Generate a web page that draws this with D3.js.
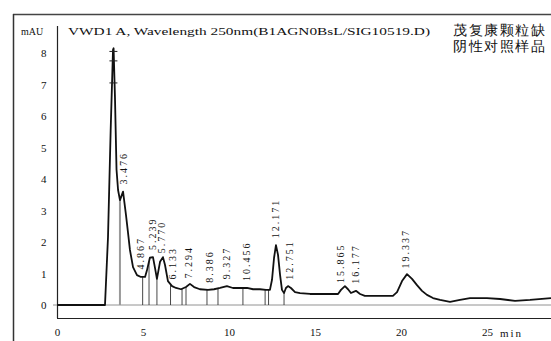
<!DOCTYPE html>
<html><head><meta charset="utf-8">
<script src="https://cdn.jsdelivr.net/npm/d3@7"></script>
<style>
html,body{margin:0;padding:0;background:#fff;}
svg{display:block;}
text{font-family:"Liberation Serif","DejaVu Serif",serif;fill:#111;}
</style></head><body>
<svg id="c" width="551" height="341"></svg>
<script>
// ---- data ----
const traceTime = [0,2.6,2.79,2.965,3.12,3.256,3.29,3.37,3.46,3.55,3.66,3.84,4.01,4.13,4.24,4.42,4.65,4.88,5.12,5.23,5.4,5.58,5.7,5.81,5.99,6.16,6.28,6.45,6.69,6.92,7.21,7.5,7.73,7.97,8.31,8.78,9.13,9.48,9.88,10.23,10.64,11.05,11.4,11.8,12.15,12.38,12.5,12.62,12.73,12.85,12.97,13.08,13.2,13.31,13.43,13.6,13.84,14.13,14.71,15.58,16.34,16.51,16.74,16.92,17.09,17.38,17.62,17.9,18.78,19.53,19.77,20.06,20.35,20.64,20.93,21.22,21.51,21.86,22.27,22.85,23.43,24.01,25,25.76,26.63,27.5,28.72];
const traceMAU  = [0,0,0,2.15,5.55,8.1,8.15,6.6,4.3,3.65,3.33,3.6,2.86,2.29,1.75,1.2,0.95,0.89,0.89,1.1,1.5,1.52,1.17,0.83,1.37,1.52,1.27,0.76,0.6,0.54,0.5,0.57,0.67,0.57,0.5,0.48,0.5,0.54,0.6,0.54,0.54,0.54,0.5,0.5,0.48,0.48,0.8,1.5,1.9,1.59,0.95,0.48,0.38,0.54,0.6,0.54,0.41,0.38,0.35,0.35,0.35,0.48,0.6,0.5,0.38,0.45,0.35,0.29,0.29,0.29,0.41,0.76,0.98,0.83,0.63,0.45,0.32,0.22,0.16,0.1,0.16,0.22,0.22,0.19,0.13,0.16,0.22];
const peakLabels = ["3.476","4.867","5.239","5.770","6.133","7.294","8.386","9.327","10.456","12.171","12.751","15.865","16.177","19.337"];
const peakLabelTime = [3.84,4.83,5.58,6.05,6.74,7.62,8.84,9.83,10.99,12.73,13.49,16.51,17.38,20.29];
const dropTimes = [3.66,4.98,5.35,5.81,6.6,7.27,7.5,8.72,9.36,10.81,12.1,12.3,13.2];
const markMAU = [8.05,7.75,7.05];
const yTicks = [0,1,2,3,4,5,6,7,8];
const xTicks = [0,5,10,15,20,25];
const titleText = "VWD1 A, Wavelength 250nm(B1AGN0BsL/SIG10519.D)";
const noteLines = ["茂复康颗粒缺","阴性对照样品"];

// ---- drawing ----
const svg = d3.select("#c");
const x = d3.scaleLinear().domain([0,25]).range([57,487]);
const y = d3.scaleLinear().domain([0,8]).range([305,53]);
const valueAt = t => {
  const i = d3.bisectRight(traceTime, t);
  if (i<=0) return traceMAU[0];
  if (i>=traceTime.length) return traceMAU[traceMAU.length-1];
  const t0=traceTime[i-1], t1=traceTime[i];
  return traceMAU[i-1] + (traceMAU[i]-traceMAU[i-1])*(t-t0)/(t1-t0);
};

// frame
svg.append("line").attr("x1",13).attr("x2",551).attr("y1",14.5).attr("y2",14.5).attr("stroke","#444").attr("stroke-width",1.3);
svg.append("line").attr("x1",13.5).attr("x2",13.5).attr("y1",14).attr("y2",341).attr("stroke","#333").attr("stroke-width",1.5);
svg.append("line").attr("x1",57.5).attr("x2",57.5).attr("y1",26).attr("y2",318).attr("stroke","#222").attr("stroke-width",1.2);

// zero line
svg.append("line").attr("x1",53).attr("x2",551).attr("y1",y(0)).attr("y2",y(0)).attr("stroke","#777").attr("stroke-width",0.8);

// y axis labels
const ya = svg.append("g").attr("transform","translate(57.5,0)")
  .call(d3.axisLeft(y).tickValues(yTicks).tickSize(0).tickPadding(11).tickFormat(d3.format("d")));
ya.select(".domain").remove();
ya.selectAll("text").attr("font-size",11).attr("font-family","Liberation Serif");

// x axis
const xa = svg.append("g").attr("transform","translate(0,318)")
  .call(d3.axisBottom(x).tickValues(xTicks).tickSize(0).tickPadding(10).tickFormat(d3.format("d")));
xa.select(".domain").attr("d","M57,0.5H551").attr("stroke","#222").attr("stroke-width",1.2);
xa.selectAll("text").attr("font-size",11).attr("font-family","Liberation Serif");
svg.append("text").attr("x",500).attr("y",337).attr("font-size",11).attr("letter-spacing",2).text("min");

// drop lines
svg.append("g").selectAll("line").data(dropTimes).join("line")
  .attr("x1",d=>x(d)).attr("x2",d=>x(d)).attr("y1",d=>y(valueAt(d))).attr("y2",y(0))
  .attr("stroke",(d,i)=>i===0?"#999":"#333").attr("stroke-width",(d,i)=>i===0?2:0.9);

// trace
svg.append("path").datum(traceTime.map((t,i)=>[t,traceMAU[i]]))
  .attr("d", d3.line().x(d=>x(d[0])).y(d=>y(d[1])))
  .attr("fill","none").attr("stroke","#111").attr("stroke-width",1.8).attr("stroke-linejoin","round");

// marks on solvent peak
svg.append("g").selectAll("line").data(markMAU).join("line")
  .attr("x1",x(3.28)-4).attr("x2",x(3.28)+4).attr("y1",d=>y(d)).attr("y2",d=>y(d))
  .attr("stroke","#222").attr("stroke-width",1);

// peak labels
svg.append("g").selectAll("text").data(peakLabels).join("text")
  .attr("transform",(d,i)=>`translate(${x(peakLabelTime[i])+3.5},${y(valueAt(peakLabelTime[i]))-7}) rotate(-90)`)
  .attr("font-size",10).attr("letter-spacing",2).text(d=>d);

// titles
svg.append("text").attr("x",21).attr("y",35).attr("font-size",10).text("mAU");
svg.append("text").attr("x",68).attr("y",35).attr("font-size",11)
  .attr("textLength",362).attr("lengthAdjust","spacingAndGlyphs").text(titleText);
svg.append("g").selectAll("text").data(noteLines).join("text")
  .attr("x",453).attr("y",(d,i)=>35+i*16).attr("font-size",14)
  .attr("font-family","Noto Sans CJK SC").attr("letter-spacing",1.5).text(d=>d);
</script>
</body></html>
